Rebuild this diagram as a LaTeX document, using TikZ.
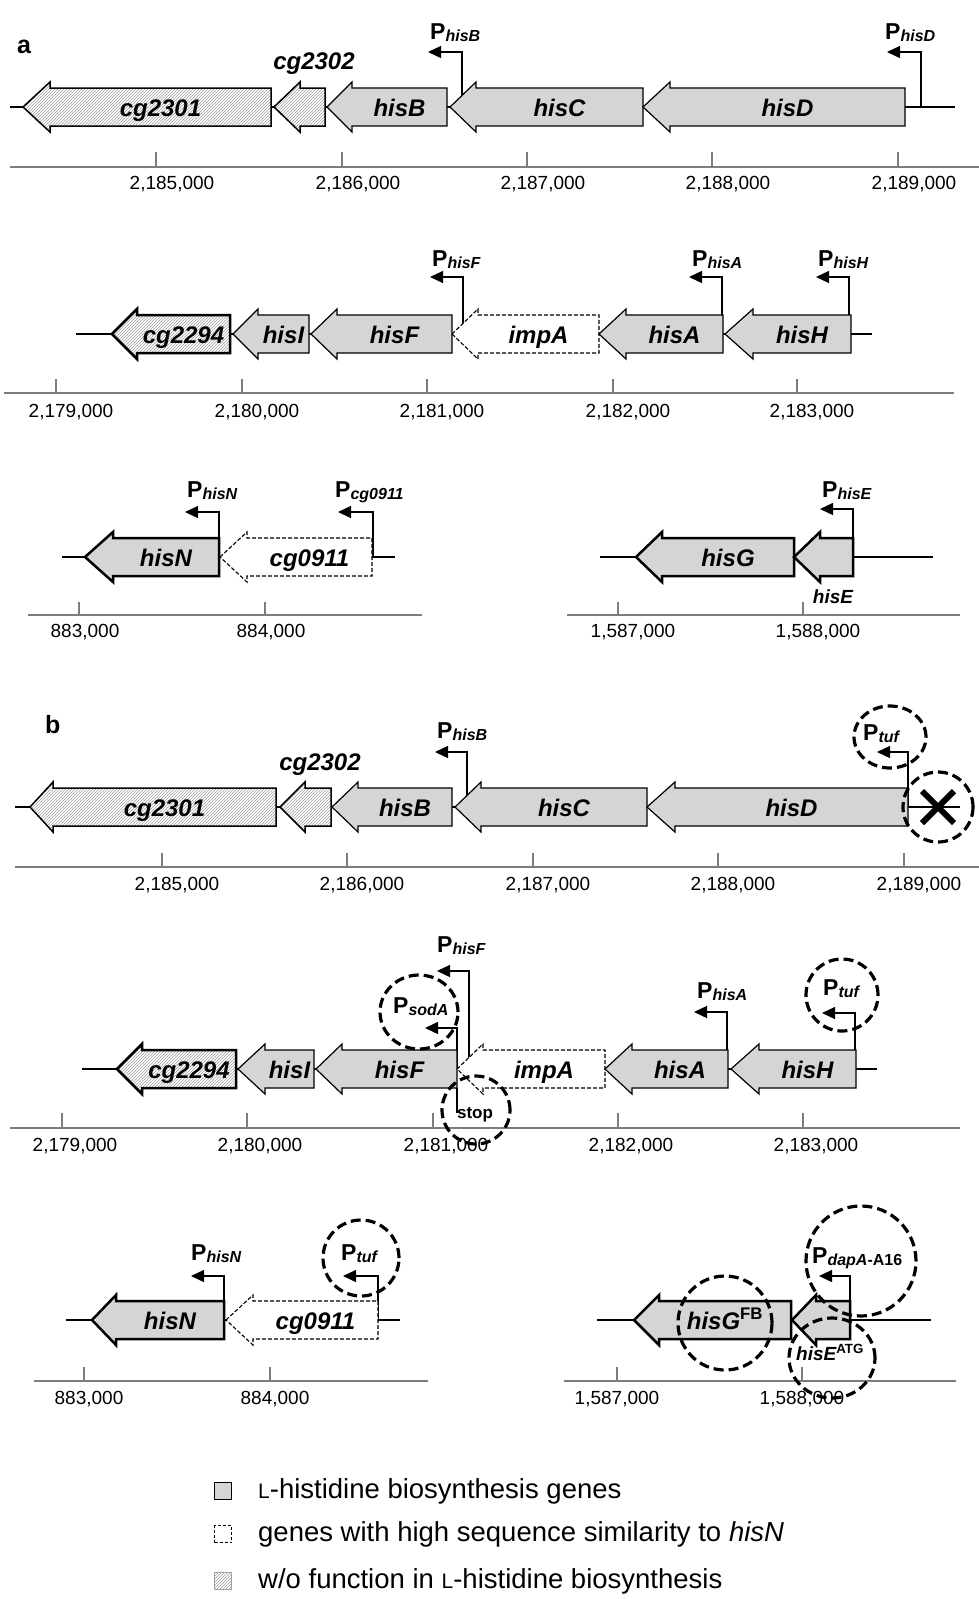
\documentclass[tikz,border=0pt]{standalone}
\usepackage{fontspec}
\setmainfont{Liberation Sans}
\usetikzlibrary{arrows.meta, patterns, positioning, shapes.geometric}

\definecolor{genegray}{RGB}{212,213,213}
\definecolor{axisgray}{RGB}{125,125,125}
\definecolor{hatchgray}{RGB}{160,160,160}

% gene arrow pointing left: style, name, tip x, head x, end x, line y, label
\newcommand{\gene}[7]{%
  \draw[#1] (#3,#6) -- (#4,#6-25) -- (#4,#6-19) -- (#5,#6-19) -- (#5,#6+19)
    -- (#4,#6+19) -- (#4,#6+25) -- cycle;
  \node[genelab] (#2) at ({(#4+#5)/2},#6+9) {#7};
}
% promoter: name, x, line y, bend y, tip x
\newcommand{\prom}[5]{%
  \coordinate (#1s) at (#2,#3);
  \coordinate (#1e) at (#5,#4);
  \draw[promarrow] (#1s) |- (#1e);
}
\newcommand{\psub}[1]{\raisebox{-2pt}{\fontsize{16}{16}\selectfont\itshape #1}}
\newcommand{\smallL}{{\fontsize{21}{21}\selectfont L}}

\begin{document}
\begin{tikzpicture}[x=1pt, y=-1pt,
    gene/.style={draw, line width=1.2pt, fill=genegray, line join=miter},
    heavy/.style={line width=2.5pt},
    hatched/.style={draw, line width=1.5pt, preaction={fill=white}, pattern=north east lines, pattern color=hatchgray},
    dashgene/.style={draw, line width=1.1pt, fill=white, dash pattern=on 4pt off 2pt},
    genelab/.style={font=\fontsize{24}{28}\selectfont\bfseries\itshape, anchor=base, inner sep=0pt},
    smalllab/.style={font=\fontsize{19}{22}\selectfont\bfseries\itshape, anchor=base, inner sep=0pt},
    panel/.style={font=\fontsize{25}{28}\selectfont\bfseries, anchor=base west, inner sep=0pt},
    dna/.style={line width=1.5pt},
    promarrow/.style={line width=1.3pt, -{Triangle[length=13pt,width=12pt]}},
    plabel/.style={font=\fontsize{23}{26}\selectfont\bfseries, anchor=base west, inner sep=0pt},
    axisline/.style={draw=axisgray, line width=1.5pt},
    tickmark/.style={draw=axisgray, line width=1.2pt},
    ticklab/.style={font=\fontsize{19}{21}\selectfont, anchor=base, inner sep=0pt},
    ring/.style={draw, line width=3.2pt, dash pattern=on 10pt off 5pt, inner sep=0pt},
    xmark/.style={line width=6pt},
    legsq/.style={draw, line width=1.5pt, minimum size=17pt, inner sep=0pt},
    legtext/.style={font=\fontsize{27.5}{31}\selectfont, anchor=base west, inner sep=0pt}
]
\fill[white] (0,0) rectangle (979,1599);
\useasboundingbox (0,0) rectangle (979,1599);

% Panel a, row 1
\node[panel] (pa) at (17,53) {a};
\draw[dna] (10,107) -- (955,107);
\prom{hisBa}{462}{107}{52}{428}
\prom{hisDa}{921}{107}{52}{887}
\gene{hatched}{cgA1}{23}{50}{271}{107}{cg2301}
\gene{hatched}{cgA2}{274}{300}{325}{107}{}
\gene{gene}{hisBA}{327}{352}{447}{107}{hisB}
\gene{gene}{hisCA}{450}{476}{643}{107}{hisC}
\gene{gene}{hisDA}{643}{670}{905}{107}{hisD}
\node[genelab] (cgA2lab) at (314,69) {cg2302};
\node[plabel] (hisBalab) at (430,39) {P\psub{hisB}};
\node[plabel] (hisDalab) at (885,39) {P\psub{hisD}};
\draw[axisline] (10,167) -- (979,167);
\foreach \x/\t in {156/{2,185,000}, 342/{2,186,000}, 527/{2,187,000}, 712/{2,188,000}, 898/{2,189,000}}{
  \draw[tickmark] (\x,152) -- (\x,167);
  \node[ticklab] (aone\x) at (\x+16,189) {\t};
}

% Panel a, row 2
\draw[dna] (76,334) -- (872,334);
\prom{hisFa}{463}{334}{277}{430}
\prom{hisAa}{722}{334}{277}{689}
\prom{hisHa}{849}{334}{277}{816}
\gene{hatched, heavy}{cgA3}{112}{137}{230}{334}{cg2294}
\gene{gene}{hisIA}{233}{258}{309}{334}{hisI}
\gene{gene}{hisFA}{311}{337}{452}{334}{hisF}
\gene{dashgene}{impAA}{452}{478}{599}{334}{impA}
\gene{gene}{hisAA}{599}{626}{723}{334}{hisA}
\gene{gene}{hisHA}{725}{753}{851}{334}{hisH}
\node[plabel] (hisFalab) at (432,266) {P\psub{hisF}};
\node[plabel] (hisAalab) at (692,266) {P\psub{hisA}};
\node[plabel] (hisHalab) at (818,266) {P\psub{hisH}};
\draw[axisline] (4,393) -- (954,393);
\foreach \x/\t in {56/{2,179,000}, 242/{2,180,000}, 427/{2,181,000}, 613/{2,182,000}, 797/{2,183,000}}{
  \draw[tickmark] (\x,379) -- (\x,393);
  \node[ticklab] (atwo\x) at (\x+15,417) {\t};
}

% Panel a, row 3
\draw[dna] (62,557) -- (395,557);
\draw[dna] (600,557) -- (933,557);
\prom{hisNa}{219}{557}{512}{185}
\prom{cgNa}{373}{557}{512}{338}
\prom{hisEa}{853}{557}{509}{820}
\gene{gene, heavy}{hisNA}{85}{113}{219}{557}{hisN}
\gene{dashgene}{cgNA}{220}{247}{372}{557}{cg0911}
\gene{gene, heavy}{hisGA}{636}{662}{794}{557}{hisG}
\gene{gene, heavy}{hisEA}{794}{820}{853}{557}{}
\node[smalllab] (hisEAlab) at (833,603) {hisE};
\node[plabel] (hisNalab) at (187,497) {P\psub{hisN}};
\node[plabel] (cgNalab) at (335,497) {P\psub{cg0911}};
\node[plabel] (hisEalab) at (822,497) {P\psub{hisE}};
\draw[axisline] (28,615) -- (422,615);
\draw[axisline] (567,615) -- (960,615);
\foreach \x/\t/\d in {79/{883,000}/6, 265/{884,000}/6, 618/{1,587,000}/15, 803/{1,588,000}/15}{
  \draw[tickmark] (\x,602) -- (\x,615);
  \node[ticklab] (athree\x) at (\x+\d,637) {\t};
}

% Panel b, row 1
\node[panel] (pb) at (45,733) {b};
\draw[dna] (15,807) -- (960,807);
\prom{hisBb}{467}{807}{752}{435}
\prom{tufDb}{908}{807}{752}{877}
\gene{hatched}{cgB1}{30}{53}{276}{807}{cg2301}
\gene{hatched}{cgB2}{280}{305}{331}{807}{}
\gene{gene}{hisBB}{332}{358}{452}{807}{hisB}
\gene{gene}{hisCB}{455}{481}{647}{807}{hisC}
\gene{gene}{hisDB}{647}{675}{908}{807}{hisD}
\node[genelab] (cgB2lab) at (320,770) {cg2302};
\node[plabel] (hisBblab) at (437,738) {P\psub{hisB}};
\node[plabel] (tufDblab) at (863,740) {P\psub{tuf}};
\draw[axisline] (15,867) -- (979,867);
\foreach \x/\t in {162/{2,185,000}, 347/{2,186,000}, 533/{2,187,000}, 718/{2,188,000}, 904/{2,189,000}}{
  \draw[tickmark] (\x,853) -- (\x,867);
  \node[ticklab] (bone\x) at (\x+15,890) {\t};
}
\node[ring, ellipse, minimum width=72pt, minimum height=62pt] (tufDring) at (890,737) {};
\node[ring, circle, minimum size=70pt] (delring) at (938,807) {};
\draw[xmark] (922,791) -- (954,823);
\draw[xmark] (922,823) -- (954,791);

% Panel b, row 2
\draw[dna] (82,1069) -- (877,1069);
\prom{hisFb}{469}{1069}{971}{437}
\prom{sodAb}{457}{1069}{1028}{425}
\prom{hisAb}{727}{1069}{1012}{694}
\prom{tufHb}{855}{1069}{1013}{822}
\gene{hatched, heavy}{cgB3}{117}{142}{236}{1069}{cg2294}
\gene{gene}{hisIB}{238}{265}{314}{1069}{hisI}
\gene{gene}{hisFB}{316}{342}{457}{1069}{hisF}
\gene{dashgene}{impAB}{457}{483}{605}{1069}{impA}
\gene{gene}{hisAB}{605}{632}{728}{1069}{hisA}
\gene{gene}{hisHB}{731}{759}{856}{1069}{hisH}
\coordinate (stoptop) at (457,1088);
\coordinate (stopbot) at (457,1113);
\draw[line width=1.3pt] (stoptop) -- (stopbot);
\node[plabel] (hisFblab) at (437,952) {P\psub{hisF}};
\node[plabel] (sodAblab) at (393,1013) {P\psub{sodA}};
\node[plabel] (hisAblab) at (697,998) {P\psub{hisA}};
\node[plabel] (tufHblab) at (823,995) {P\psub{tuf}};
\draw[axisline] (10,1128) -- (960,1128);
\foreach \x/\t in {62/{2,179,000}, 247/{2,180,000}, 433/{2,181,000}, 618/{2,182,000}, 803/{2,183,000}}{
  \draw[tickmark] (\x,1113) -- (\x,1128);
  \node[ticklab] (btwo\x) at (\x+13,1151) {\t};
}
\node[font=\fontsize{17}{19}\selectfont\bfseries, anchor=base, inner sep=0pt] (stoplab) at (475,1118) {stop};
\node[ring, ellipse, minimum width=78pt, minimum height=74pt] (sodAring) at (419,1012) {};
\node[ring, circle, minimum size=68pt] (stopring) at (476,1110) {};
\node[ring, circle, minimum size=72pt] (tufHring) at (842,995) {};

% Panel b, row 3
\draw[dna] (66,1320) -- (400,1320);
\draw[dna] (597,1320) -- (931,1320);
\prom{hisNb}{224}{1320}{1276}{191}
\prom{tufNb}{378}{1320}{1276}{343}
\prom{dapAb}{850}{1320}{1276}{819}
\gene{gene, heavy}{hisNB}{92}{116}{224}{1320}{hisN}
\gene{dashgene}{cgNB}{226}{253}{378}{1320}{cg0911}
\gene{gene, heavy}{hisGB}{634}{659}{791}{1320}{hisG\textsuperscript{\upshape FB}}
\gene{gene, heavy}{hisEB}{792}{816}{850}{1320}{}
\node[smalllab] (hisEBlab) at (830,1360) {hisE\textsuperscript{\upshape ATG}};
\node[plabel] (hisNblab) at (191,1260) {P\psub{hisN}};
\node[plabel] (tufNblab) at (341,1260) {P\psub{tuf}};
\node[plabel] (dapAblab) at (812,1263) {P\psub{dapA\upshape-A16}};
\draw[axisline] (34,1381) -- (428,1381);
\draw[axisline] (564,1381) -- (956,1381);
\foreach \x/\t/\d in {84/{883,000}/5, 270/{884,000}/5, 617/{1,587,000}/0, 802/{1,588,000}/0}{
  \draw[tickmark] (\x,1367) -- (\x,1381);
  \node[ticklab] (bthree\x) at (\x+\d,1404) {\t};
}
\node[ring, circle, minimum size=76pt] (tufNring) at (361,1258) {};
\node[ring, circle, minimum size=110pt] (dapAring) at (861,1261) {};
\node[ring, circle, minimum size=94pt] (hisGring) at (725,1323) {};
\node[ring, ellipse, minimum width=86pt, minimum height=80pt] (hisEring) at (832,1358) {};

% Legend
\node[legsq, fill=genegray] (sqbio) at (223,1491) {};
\node[legtext] (txtbio) at (258,1498) {\smallL-histidine biosynthesis genes};
\node[legsq, fill=white, dash pattern=on 3pt off 2pt] (sqsim) at (223,1534) {};
\node[legtext] (txtsim) at (258,1541) {genes with high sequence similarity to \textit{hisN}};
\node[legsq, draw=hatchgray, preaction={fill=white}, pattern=north east lines, pattern color=hatchgray] (sqnone) at (223,1581) {};
\node[legtext] (txtnone) at (258,1588) {w/o function in \smallL-histidine biosynthesis};
\end{tikzpicture}
\end{document}
